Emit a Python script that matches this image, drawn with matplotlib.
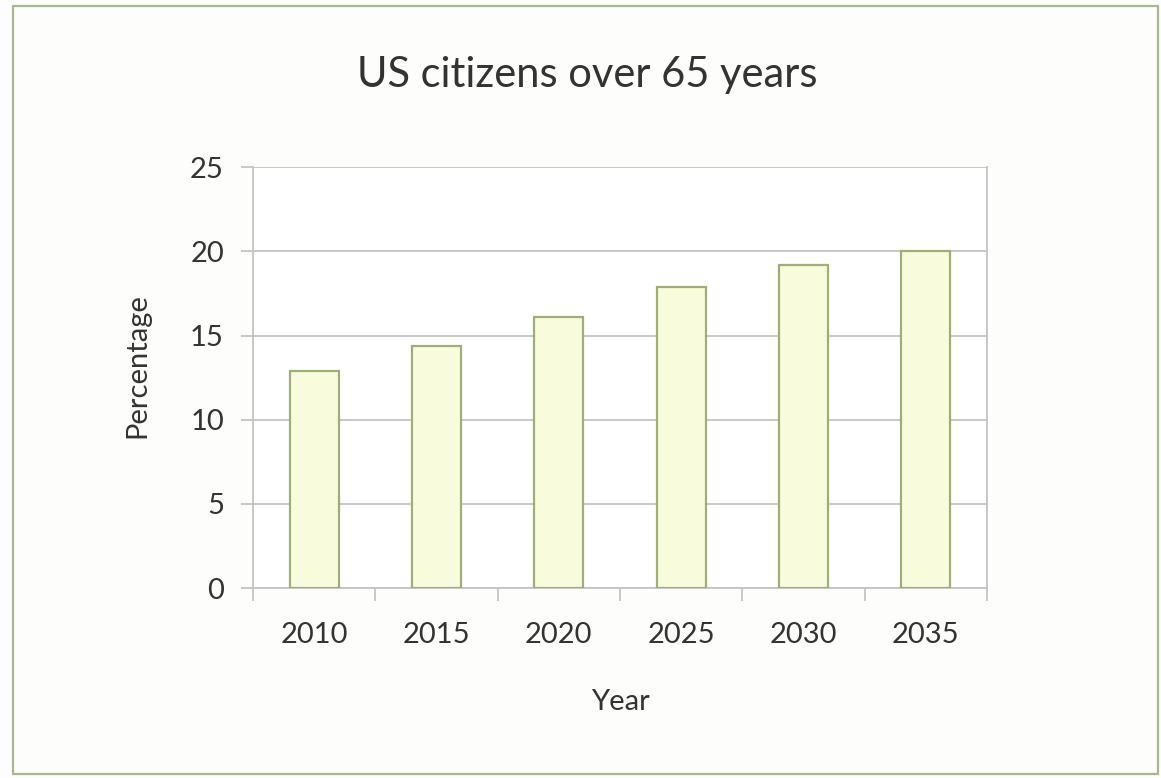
import matplotlib.pyplot as plt
from matplotlib.patches import Rectangle
import numpy as np

years = ['2010', '2015', '2020', '2025', '2030', '2035']
percent = [12.9, 14.4, 16.1, 17.9, 19.2, 20.0]
yticks = [0, 5, 10, 15, 20, 25]

plt.rcParams['font.family'] = ['Lato', 'DejaVu Sans']
txt = '#333333'
grey = '#c4c4c4'

fig = plt.figure(figsize=(11.61, 7.78), dpi=100)
fig.patch.set_facecolor('#fdfdfb')
fig.patches.append(Rectangle((0.011, 0.005), 0.986, 0.987, transform=fig.transFigure,
                             fill=False, edgecolor='#a9b98f', linewidth=1.6))

ax = fig.add_axes([0.218, 0.244, 0.632, 0.541])
ax.set_facecolor('white')
x = np.arange(len(years))
ax.bar(x, percent, width=0.4, color='#f8fcdc', edgecolor='#9fae74', linewidth=1.6, zorder=3)

ax.set_xlim(-0.5, len(years) - 0.5)
ax.set_ylim(0, 25)
ax.set_yticks(yticks)
ax.set_yticklabels([str(t) for t in yticks])
ax.set_xticks(x)
ax.set_xticklabels(years)
ax.set_xticks(np.arange(-0.5, len(years), 1), minor=True)
ax.grid(axis='y', color=grey, linewidth=1.3, zorder=0)

ax.tick_params(axis='x', which='major', length=0, pad=24, labelsize=21, labelcolor=txt)
ax.tick_params(axis='x', which='minor', length=9, width=1.3, color=grey, direction='out')
ax.tick_params(axis='y', length=9, width=1.3, color=grey, pad=12, labelsize=21, labelcolor=txt)

for s in ['left', 'bottom', 'right']:
    ax.spines[s].set_color(grey)
    ax.spines[s].set_linewidth(1.3)
ax.spines['top'].set_visible(False)

fig.text(0.506, 0.904, 'US citizens over 65 years', fontsize=30, color=txt, ha='center', va='center')
ax.set_xlabel('Year', fontsize=21, color=txt)
ax.xaxis.set_label_coords(0.5, -0.24)
ax.set_ylabel('Percentage', fontsize=21, color=txt)
ax.yaxis.set_label_coords(-0.14, 0.53)

plt.savefig('out.png', dpi=100, facecolor=fig.get_facecolor())
plt.close()
